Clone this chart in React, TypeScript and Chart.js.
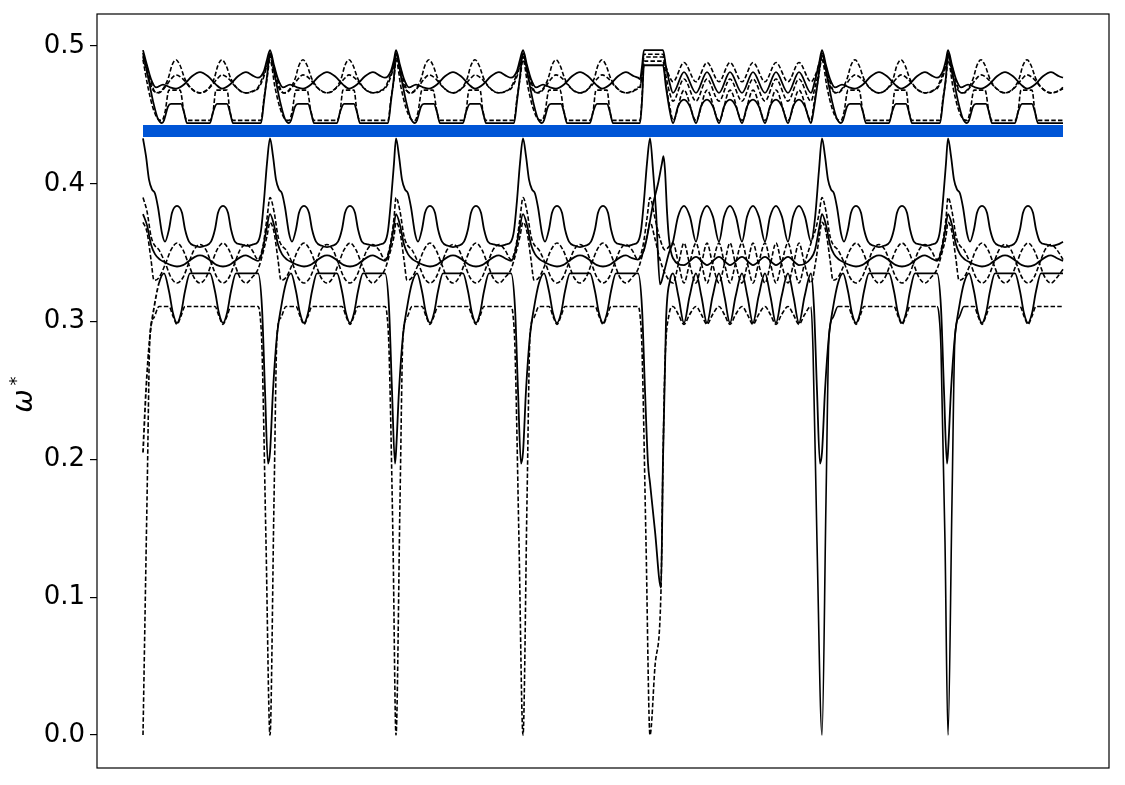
import { useEffect, useRef } from "react";

import { Chart, registerables } from "chart.js";

Chart.register(...registerables);

type Profile = [number, number][];

// k-path: segment starts (path units), the 5th segment is the long one
const SEGMENT_STARTS = [0, 127, 253, 380, 507, 679, 805];
const SEGMENT_KIND = ["std", "std", "std", "std", "wide", "std", "std"];
const PATH_END = 920;

const Y_TICKS = [0, 0.1, 0.2, 0.3, 0.4, 0.5];
const GAP_LOW = 0.434;
const GAP_HIGH = 0.4427;

// ---- lower bands, standard segment (offset, omega) ----
const STD_LA: Profile = [[0,0.433],[3,0.42],[6,0.403],[9,0.396],[12,0.393],[15,0.383],[19,0.364],[22,0.358],[26,0.367],[29,0.379],[34,0.384],[39,0.379],[42,0.367],[46,0.358],[52,0.355],[57,0.354],[62,0.355],[68,0.358],[72,0.367],[75,0.379],[80,0.384],[85,0.379],[88,0.367],[92,0.358],[98,0.356],[104,0.355],[110,0.356],[115,0.358],[118,0.366],[121,0.388],[124,0.415],[127,0.433]];
const STD_LB: Profile = [[0,0.378],[4,0.37],[8,0.356],[12,0.349],[17,0.345],[22,0.343],[28,0.341],[34,0.34],[40,0.341],[46,0.344],[52,0.347],[57,0.348],[62,0.347],[68,0.344],[74,0.341],[80,0.34],[86,0.341],[92,0.344],[98,0.347],[103,0.348],[109,0.346],[115,0.344],[119,0.35],[123,0.365],[127,0.378]];
const STD_LC: Profile = [[0,0.39],[4,0.38],[8,0.362],[11,0.356],[16,0.352],[22.5,0.342],[28,0.332],[34,0.328],[40,0.332],[45.5,0.342],[51,0.352],[57,0.356],[63,0.352],[68.5,0.342],[74,0.332],[80,0.328],[86,0.332],[91.5,0.342],[97,0.352],[103,0.356],[109,0.352],[115,0.345],[120,0.355],[124,0.375],[127,0.39]];
const STD_LD: Profile = [[0,0.372],[4,0.365],[8,0.345],[11,0.33],[16,0.332],[22.5,0.342],[28,0.352],[34,0.357],[40,0.352],[45.5,0.342],[51,0.332],[57,0.328],[63,0.332],[68.5,0.342],[74,0.352],[80,0.357],[86,0.352],[91.5,0.342],[97,0.332],[103,0.328],[109,0.332],[115,0.338],[120,0.35],[124,0.362],[127,0.372]];
const STD_L2: Profile = [[0,0.205],[3,0.25],[7,0.29],[11,0.31],[16,0.328],[21,0.335],[26,0.322],[30,0.306],[34,0.299],[38,0.306],[42,0.322],[47,0.335],[67,0.335],[72,0.322],[76,0.306],[80,0.299],[84,0.306],[88,0.322],[93,0.335],[115,0.335],[119,0.31],[122,0.25],[125,0.197],[127,0.215]];
const STD_L3: Profile = [[0,0],[4,0.17],[7,0.29],[11,0.303],[16,0.311],[26,0.311],[30,0.304],[34,0.298],[38,0.304],[42,0.311],[72,0.311],[76,0.304],[80,0.298],[84,0.304],[88,0.311],[115,0.311],[117,0.305],[119,0.28],[123,0.14],[127,0]];

// ---- upper bands, standard segment ----
const STD_U1: Profile = [[0,0.495],[5,0.478],[10,0.46],[15,0.447],[19,0.444],[21,0.446],[25,0.456],[28,0.458],[38,0.458],[41,0.452],[44,0.444],[67,0.444],[70,0.452],[74,0.458],[84,0.458],[87,0.452],[90,0.444],[115,0.444],[118,0.444],[121,0.46],[124,0.478],[127,0.495]];
const STD_U2: Profile = [[0,0.49],[5,0.47],[10,0.455],[15,0.447],[19,0.446],[22,0.452],[26,0.468],[37,0.468],[41,0.452],[44,0.446],[67,0.446],[70,0.452],[73,0.468],[84,0.468],[87,0.452],[90,0.446],[115,0.446],[118,0.446],[121,0.462],[124,0.476],[127,0.49]];
const STD_U3: Profile = [[0,0.493],[4,0.485],[8,0.474],[13,0.466],[19,0.468],[25,0.476],[29,0.486],[33,0.49],[37,0.486],[42,0.476],[50,0.468],[57,0.466],[64,0.468],[71,0.476],[75,0.486],[79,0.49],[83,0.486],[88,0.476],[96,0.468],[103,0.466],[110,0.467],[115,0.47],[120,0.478],[124,0.487],[127,0.493]];
const STD_U4: Profile = [[0,0.497],[4,0.486],[8,0.476],[13,0.47],[20,0.472],[27,0.47],[33,0.469],[41,0.472],[49,0.478],[57,0.481],[65,0.478],[73,0.472],[79,0.469],[87,0.472],[95,0.478],[103,0.481],[111,0.478],[115,0.477],[121,0.482],[124,0.49],[127,0.497]];
const STD_U5: Profile = [[0,0.492],[5,0.478],[10,0.468],[16,0.466],[22,0.47],[28,0.476],[33,0.479],[40,0.476],[47,0.47],[57,0.466],[67,0.47],[74,0.476],[79,0.479],[86,0.476],[93,0.47],[103,0.466],[112,0.468],[115,0.469],[121,0.478],[124,0.486],[127,0.492]];

// ---- long segment ----
const WIDE_LA: Profile = [[0,0.433],[3,0.41],[6,0.38],[10,0.327],[14,0.336],[19,0.35],[23,0.358],[28,0.376],[34,0.384],[40,0.376],[46,0.358],[51,0.376],[57,0.384],[63,0.376],[69,0.358],[74,0.376],[80,0.384],[86,0.376],[92,0.358],[97,0.376],[103,0.384],[109,0.376],[115,0.358],[120,0.376],[126,0.384],[132,0.376],[138,0.358],[143,0.376],[149,0.384],[155,0.376],[161,0.358],[165,0.375],[169,0.41],[172,0.433]];
const WIDE_LB: Profile = [[-12,0.345],[-6,0.352],[-2,0.365],[3,0.385],[8,0.4],[12,0.415],[13.5,0.42],[15,0.41],[17,0.38],[19,0.36],[23,0.346],[34,0.341],[46,0.347],[57,0.341],[69,0.347],[80,0.341],[92,0.347],[103,0.341],[115,0.347],[126,0.341],[138,0.347],[149,0.341],[161,0.346],[165,0.352],[169,0.367],[172,0.378]];
const WIDE_LC: Profile = [[0,0.39],[5,0.375],[10,0.36],[15,0.352],[23,0.357],[28.5,0.342],[34,0.328],[39.5,0.342],[46,0.357],[51.5,0.342],[57,0.328],[62.5,0.342],[69,0.357],[74.5,0.342],[80,0.328],[85.5,0.342],[92,0.357],[97.5,0.342],[103,0.328],[108.5,0.342],[115,0.357],[120.5,0.342],[126,0.328],[131.5,0.342],[138,0.357],[143.5,0.342],[149,0.328],[154.5,0.342],[161,0.357],[166,0.368],[169,0.378],[172,0.39]];
const WIDE_LD: Profile = [[0,0.372],[5,0.36],[10,0.345],[15,0.335],[23,0.328],[28.5,0.342],[34,0.357],[39.5,0.342],[46,0.328],[51.5,0.342],[57,0.357],[62.5,0.342],[69,0.328],[74.5,0.342],[80,0.357],[85.5,0.342],[92,0.328],[97.5,0.342],[103,0.357],[108.5,0.342],[115,0.328],[120.5,0.342],[126,0.357],[131.5,0.342],[138,0.328],[143.5,0.342],[149,0.357],[154.5,0.342],[161,0.328],[166,0.345],[169,0.36],[172,0.372]];
const WIDE_L2: Profile = [[0,0.183],[5,0.148],[11,0.107],[13,0.2],[16,0.3],[20,0.33],[23,0.335],[28.5,0.318],[34,0.299],[39.5,0.318],[46,0.335],[51.5,0.318],[57,0.299],[62.5,0.318],[69,0.335],[74.5,0.318],[80,0.299],[85.5,0.318],[92,0.335],[97.5,0.318],[103,0.299],[108.5,0.318],[115,0.335],[120.5,0.318],[126,0.299],[131.5,0.318],[138,0.335],[143.5,0.318],[149,0.299],[154.5,0.318],[161,0.335],[164,0.31],[167,0.25],[170,0.197],[172,0.215]];
const WIDE_L3: Profile = [[0,0],[5,0.05],[11,0.105],[13,0.2],[15,0.27],[19,0.305],[23,0.311],[28.5,0.305],[34,0.298],[39.5,0.305],[46,0.311],[51.5,0.305],[57,0.298],[62.5,0.305],[69,0.311],[74.5,0.305],[80,0.298],[85.5,0.305],[92,0.311],[97.5,0.305],[103,0.298],[108.5,0.305],[115,0.311],[120.5,0.305],[126,0.298],[131.5,0.305],[138,0.311],[143.5,0.305],[149,0.298],[154.5,0.305],[161,0.311],[163,0.28],[167,0.14],[172,0]];
const WIDE_U1: Profile = [[-10,0.444],[-8,0.46],[-6,0.486],[13,0.486],[16,0.47],[20,0.452],[23,0.444],[28,0.456],[34,0.461],[40,0.456],[46,0.444],[51,0.456],[57,0.461],[63,0.456],[69,0.444],[74,0.456],[80,0.461],[86,0.456],[92,0.444],[97,0.456],[103,0.461],[109,0.456],[115,0.444],[120,0.456],[126,0.461],[132,0.456],[138,0.444],[143,0.456],[149,0.461],[155,0.456],[161,0.444],[164,0.455],[168,0.475],[172,0.495]];
const WIDE_U2: Profile = [[-10,0.446],[-8,0.462],[-6,0.489],[13,0.489],[16,0.472],[20,0.455],[23,0.446],[34,0.468],[46,0.446],[57,0.468],[69,0.446],[80,0.468],[92,0.446],[103,0.468],[115,0.446],[126,0.468],[138,0.446],[149,0.468],[161,0.446],[164,0.458],[168,0.475],[172,0.49]];
const WIDE_U3: Profile = [[-10,0.47],[-8,0.48],[-6,0.494],[13,0.494],[16,0.485],[20,0.477],[23,0.474],[34,0.488],[46,0.474],[57,0.488],[69,0.474],[80,0.488],[92,0.474],[103,0.488],[115,0.474],[126,0.488],[138,0.474],[149,0.488],[161,0.474],[166,0.48],[169,0.487],[172,0.493]];
const WIDE_U4: Profile = [[-10,0.476],[-8,0.485],[-6,0.497],[13,0.497],[16,0.485],[20,0.472],[23,0.466],[34,0.481],[46,0.466],[57,0.481],[69,0.466],[80,0.481],[92,0.466],[103,0.481],[115,0.466],[126,0.481],[138,0.466],[149,0.481],[161,0.466],[165,0.475],[169,0.487],[172,0.497]];
const WIDE_U5: Profile = [[-10,0.47],[-8,0.48],[-6,0.492],[13,0.492],[16,0.478],[20,0.465],[23,0.46],[34,0.476],[46,0.46],[57,0.476],[69,0.46],[80,0.476],[92,0.46],[103,0.476],[115,0.46],[126,0.476],[138,0.46],[149,0.476],[161,0.46],[165,0.47],[169,0.482],[172,0.492]];

const DASH = [4.5, 2.2];

interface Band {
  name: string;
  std: Profile;
  wide: Profile;
  dashed: boolean;
}

const BANDS: Band[] = [
  { name: "LA", std: STD_LA, wide: WIDE_LA, dashed: false },
  { name: "LB", std: STD_LB, wide: WIDE_LB, dashed: false },
  { name: "LC", std: STD_LC, wide: WIDE_LC, dashed: true },
  { name: "LD", std: STD_LD, wide: WIDE_LD, dashed: true },
  { name: "L2", std: STD_L2, wide: WIDE_L2, dashed: false },
  { name: "L3", std: STD_L3, wide: WIDE_L3, dashed: true },
  { name: "U1", std: STD_U1, wide: WIDE_U1, dashed: false },
  { name: "U2", std: STD_U2, wide: WIDE_U2, dashed: true },
  { name: "U3", std: STD_U3, wide: WIDE_U3, dashed: true },
  { name: "U4", std: STD_U4, wide: WIDE_U4, dashed: false },
  { name: "U5", std: STD_U5, wide: WIDE_U5, dashed: true },
];

function buildPath(band: Band) {
  const pts: { x: number; y: number }[] = [];
  SEGMENT_STARTS.forEach((start, i) => {
    const prof = SEGMENT_KIND[i] === "wide" ? band.wide : band.std;
    const first = start + prof[0][0];
    while (pts.length && pts[pts.length - 1].x >= first) pts.pop();
    for (const [off, val] of prof) {
      const x = start + off;
      if (x <= PATH_END) pts.push({ x, y: val });
    }
  });
  return pts;
}

const framePlugin = {
  id: "frame",
  afterDraw(chart: Chart) {
    const { ctx, chartArea } = chart;
    ctx.save();
    ctx.strokeStyle = "#000";
    ctx.lineWidth = 1.2;
    ctx.strokeRect(chartArea.left, chartArea.top, chartArea.right - chartArea.left, chartArea.bottom - chartArea.top);
    // y label: omega with superscript star
    ctx.translate(32, 401);
    ctx.rotate(-Math.PI / 2);
    ctx.fillStyle = "#000";
    ctx.textAlign = "center";
    ctx.textBaseline = "alphabetic";
    ctx.font = "italic 28px 'DejaVu Sans'";
    ctx.fillText("ω", 0, 0);
    ctx.font = "18px 'DejaVu Sans'";
    ctx.fillText("*", 20, -10);
    ctx.restore();
  },
};

function BandChart() {
  const canvasRef = useRef<HTMLCanvasElement>(null);
  const chartRef = useRef<Chart | null>(null);

  useEffect(() => {
    if (!canvasRef.current) return;
    if (chartRef.current) chartRef.current.destroy();

    const lines = BANDS.map((band) => ({
      label: band.name,
      data: buildPath(band),
      borderColor: "#000",
      borderWidth: band.dashed ? 1.6 : 1.8,
      borderDash: band.dashed ? DASH : [],
      pointRadius: 0,
      fill: false,
      cubicInterpolationMode: "monotone" as const,
      segment: {
        borderDash: (ctx: any) => {
          const x = ctx.p0.parsed.x;
          if (band.name === "L2" && x < 14) return DASH;
          if (band.name === "L3" && (Math.abs(x - 679) < 12 || Math.abs(x - 805) < 12)) return [];
          return undefined;
        },
      },
    }));

    chartRef.current = new Chart(canvasRef.current, {
      type: "line",
      data: {
        datasets: [
          ...lines,
          {
            label: "gap-low",
            data: [{ x: 0, y: GAP_LOW }, { x: PATH_END, y: GAP_LOW }],
            borderWidth: 0,
            pointRadius: 0,
            fill: false,
          },
          {
            label: "gap-high",
            data: [{ x: 0, y: GAP_HIGH }, { x: PATH_END, y: GAP_HIGH }],
            borderWidth: 0,
            pointRadius: 0,
            backgroundColor: "#0055d6",
            fill: "-1",
          },
        ] as any,
      },
      options: {
        animation: false,
        responsive: true,
        maintainAspectRatio: false,
        layout: { padding: { top: 14, right: 16, bottom: 17, left: 0 } },
        plugins: { legend: { display: false }, tooltip: { enabled: false } },
        scales: {
          x: { type: "linear", min: -46, max: 966, display: false },
          y: {
            type: "linear",
            min: -0.0239,
            max: 0.5232,
            afterFit: (scale: any) => {
              scale.width = 97;
              scale.paddingTop = 0;
              scale.paddingBottom = 0;
            },
            afterBuildTicks: (scale: any) => {
              scale.ticks = Y_TICKS.map((v) => ({ value: v }));
            },
            border: { display: false },
            grid: { drawOnChartArea: false, drawTicks: true, tickLength: 7, color: "#000", lineWidth: 1.2 },
            ticks: {
              color: "#000",
              padding: 5,
              font: { family: "'DejaVu Sans'", size: 26 },
              callback: (v: any) => Number(v).toFixed(1),
            },
          },
        },
      },
      plugins: [framePlugin],
    });

    return () => chartRef.current?.destroy();
  }, []);

  return <canvas ref={canvasRef} role="img" aria-label="Band structure omega* along k-path with gap band" />;
}

export default function App() {
  return (
    <div style={{ position: "absolute", left: 0, top: 0, width: 1125, height: 785, background: "#fff" }}>
      <BandChart />
    </div>
  );
}
